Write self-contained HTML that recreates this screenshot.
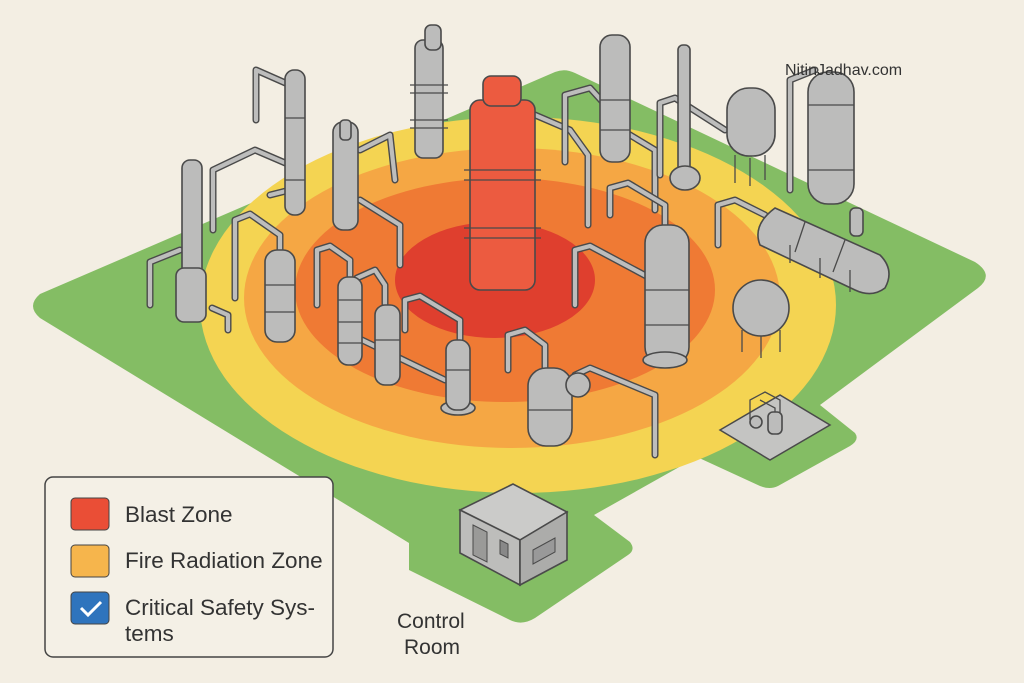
<!DOCTYPE html>
<html><head><meta charset="utf-8"><style>
html,body{margin:0;padding:0;background:#f3eee3;}
svg{display:block;font-family:"Liberation Sans",sans-serif;}
.c{fill:#bcbcbb;stroke:#4a4a4a;stroke-width:1.6}
.p{fill:none;stroke:#4a4a4a;stroke-width:7;stroke-linecap:round;stroke-linejoin:round}
.q{fill:none;stroke:#bdbdbc;stroke-width:4.2;stroke-linecap:round;stroke-linejoin:round}
.b{stroke:#4a4a4a;stroke-width:1.3;fill:none}
</style></head><body>
<svg width="1024" height="683" viewBox="0 0 1024 683">
<rect width="1024" height="683" fill="#f3eee3"/>
<!-- ground -->
<path d="M40,294 L555,72 Q565,68 575,73 L975,262 Q995,275 978,288 L820,405 L855,433 Q860,440 850,446 L778,486 Q770,490 760,486 L697,457 L594,515 L630,542 Q636,550 628,555 L535,618 Q522,626 510,620 L409,570 L409,543 L40,318 Q26,306 40,294 Z" fill="#84bd64"/>
<!-- zones -->
<ellipse cx="518" cy="305" rx="318" ry="188" fill="#f4d452"/>
<ellipse cx="512" cy="298" rx="268" ry="150" fill="#f5a744"/>
<ellipse cx="505" cy="290" rx="210" ry="112" fill="#ef7a34"/>
<ellipse cx="495" cy="280" rx="100" ry="58" fill="#df3f2e"/>
<!-- pipes back -->
<g>
<path class="p" d="M213,230 L213,170 L255,150 L290,165"/><path class="q" d="M213,230 L213,170 L255,150 L290,165"/>
<path class="p" d="M256,120 L256,70 L290,85 L290,190 L270,195"/><path class="q" d="M256,120 L256,70 L290,85 L290,190 L270,195"/>
<path class="p" d="M360,150 L390,135 L395,180"/><path class="q" d="M360,150 L390,135 L395,180"/>
<path class="p" d="M150,305 L150,262 L180,250"/><path class="q" d="M150,305 L150,262 L180,250"/>
<path class="p" d="M235,298 L235,220 L250,214 L280,235 L280,255"/><path class="q" d="M235,298 L235,220 L250,214 L280,235 L280,255"/>
<path class="p" d="M360,200 L400,225 L400,265"/><path class="q" d="M360,200 L400,225 L400,265"/>
<path class="p" d="M317,305 L317,250 L330,246 L350,260 L350,285"/><path class="q" d="M317,305 L317,250 L330,246 L350,260 L350,285"/>
<path class="p" d="M357,300 L357,278 L375,270 L385,285 L385,310"/><path class="q" d="M357,300 L357,278 L375,270 L385,285 L385,310"/>
<path class="p" d="M405,330 L405,300 L420,296 L460,320 L460,345"/><path class="q" d="M405,330 L405,300 L420,296 L460,320 L460,345"/>
<path class="p" d="M362,340 L445,380"/><path class="q" d="M362,340 L445,380"/>
<path class="p" d="M535,115 L570,130 L588,155 L588,225"/><path class="q" d="M535,115 L570,130 L588,155 L588,225"/>
<path class="p" d="M565,162 L565,95 L590,88 L610,110"/><path class="q" d="M565,162 L565,95 L590,88 L610,110"/>
<path class="p" d="M605,120 L655,150 L655,210"/><path class="q" d="M605,120 L655,150 L655,210"/>
<path class="p" d="M610,215 L610,188 L628,183 L665,205 L665,225"/><path class="q" d="M610,215 L610,188 L628,183 L665,205 L665,225"/>
<path class="p" d="M575,305 L575,250 L590,246 L650,278"/><path class="q" d="M575,305 L575,250 L590,246 L650,278"/>
<path class="p" d="M660,175 L660,103 L675,98 L725,130"/><path class="q" d="M660,175 L660,103 L675,98 L725,130"/>
<path class="p" d="M790,190 L790,80 L815,70"/><path class="q" d="M790,190 L790,80 L815,70"/>
<path class="p" d="M718,245 L718,205 L735,200 L765,215"/><path class="q" d="M718,245 L718,205 L735,200 L765,215"/>
<path class="p" d="M508,370 L508,335 L525,330 L545,345 L545,370"/><path class="q" d="M508,370 L508,335 L525,330 L545,345 L545,370"/>
<path class="p" d="M575,375 L590,368 L655,395 L655,455"/><path class="q" d="M575,375 L590,368 L655,395 L655,455"/>
<path class="p" d="M228,330 L228,315 L212,308"/><path class="q" d="M228,330 L228,315 L212,308"/>
</g>
<!-- columns -->
<g>
<rect class="c" x="182" y="160" width="20" height="160" rx="8"/>
<rect class="c" x="176" y="268" width="30" height="54" rx="8"/>
<rect class="c" x="285" y="70" width="20" height="145" rx="9"/>
<path class="b" d="M285,118h20M285,180h20"/>
<rect class="c" x="333" y="122" width="25" height="108" rx="10"/>
<rect class="c" x="340" y="120" width="11" height="20" rx="4"/>
<rect class="c" x="415" y="40" width="28" height="118" rx="8"/>
<rect class="c" x="425" y="25" width="16" height="25" rx="6"/>
<path class="b" d="M410,85 h38 M410,93 h38 M410,120 h38 M410,128 h38"/>
<rect class="c" x="265" y="250" width="30" height="92" rx="12"/>
<path class="b" d="M265,285h30M265,312h30"/>
<rect class="c" x="338" y="277" width="24" height="88" rx="10"/>
<path class="b" d="M338,300h24M338,322h24M338,343h24"/>
<rect class="c" x="375" y="305" width="25" height="80" rx="10"/>
<path class="b" d="M375,340h25"/>
<ellipse class="c" cx="458" cy="408" rx="17" ry="7"/>
<rect class="c" x="446" y="340" width="24" height="70" rx="10"/>
<path class="b" d="M446,370h24"/>
<rect class="c" x="600" y="35" width="30" height="127" rx="12"/>
<path class="b" d="M600,100h30M600,130h30"/>
<rect class="c" x="678" y="45" width="12" height="130" rx="5"/>
<ellipse class="c" cx="685" cy="178" rx="15" ry="12"/>
<rect class="c" x="727" y="88" width="48" height="68" rx="22"/>
<path class="b" d="M735,155 v28 M750,158 v28 M765,155 v25"/>
<rect class="c" x="808" y="72" width="46" height="132" rx="20"/>
<path class="b" d="M808,105h46M808,170h46"/>
<path class="c" d="M775,208 L880,255 Q895,270 885,288 Q872,298 855,290 L760,245 Q752,225 775,208 Z"/>
<path class="b" d="M805,222 l-10,30 M845,240 l-12,32 M790,245 v18 M820,258 v20 M850,270 v22"/>
<rect class="c" x="850" y="208" width="13" height="28" rx="5"/>
<rect class="c" x="645" y="225" width="44" height="140" rx="18"/>
<path class="b" d="M645,290h44M645,325h44"/>
<ellipse class="c" cx="665" cy="360" rx="22" ry="8"/>
<circle class="c" cx="761" cy="308" r="28"/>
<path class="b" d="M742,330 v22 M761,336 v22 M780,330 v22"/>
<rect class="c" x="528" y="368" width="44" height="78" rx="18"/>
<path class="b" d="M528,410h44"/>
<circle class="c" cx="578" cy="385" r="12"/>
<!-- red column -->
<rect x="470" y="100" width="65" height="190" rx="10" fill="#ec5b40" stroke="#4a4a4a" stroke-width="1.6"/>
<rect x="483" y="76" width="38" height="30" rx="8" fill="#ec5b40" stroke="#4a4a4a" stroke-width="1.6"/>
<path class="b" d="M464,170h77M464,180h77M464,228h77M464,238h77"/>
</g>
<!-- platform -->
<path d="M720,430 L780,395 L830,425 L770,460 Z" fill="#c4c4c2" stroke="#4a4a4a" stroke-width="1.5"/>
<path class="b" d="M750,420 v-20 l15,-8 l15,8 v22 M760,400 l15,8 v15"/>
<rect class="c" x="768" y="412" width="14" height="22" rx="5"/>
<circle class="c" cx="756" cy="422" r="6"/>
<!-- control room -->
<path d="M460,510 L513,484 L567,512 L520,540 Z" fill="#cbcbc9" stroke="#4a4a4a" stroke-width="1.6"/>
<path d="M460,510 L520,540 L520,585 L460,553 Z" fill="#bdbdbb" stroke="#4a4a4a" stroke-width="1.6"/>
<path d="M520,540 L567,512 L567,560 L520,585 Z" fill="#acacaa" stroke="#4a4a4a" stroke-width="1.6"/>
<path d="M473,525 L487,532 L487,562 L473,555 Z" fill="#9a9a98" stroke="#4a4a4a"/>
<path d="M500,540 L508,544 L508,558 L500,554 Z" fill="#888" stroke="#4a4a4a"/>
<path d="M533,550 L555,538 L555,552 L533,564 Z" fill="#999" stroke="#4a4a4a"/>
<text x="397" y="628" font-size="21" fill="#333">Control</text>
<text x="404" y="654" font-size="21" fill="#333">Room</text>
<text x="785" y="75" font-size="16" fill="#333">NitinJadhav.com</text>
<!-- legend -->
<rect x="45" y="477" width="288" height="180" rx="8" fill="#f4f0e6" stroke="#444" stroke-width="1.5"/>
<rect x="71" y="498" width="38" height="32" rx="4" fill="#ea4e36" stroke="#444"/>
<rect x="71" y="545" width="38" height="32" rx="4" fill="#f6b54c" stroke="#444"/>
<rect x="71" y="592" width="38" height="32" rx="4" fill="#2f74bd" stroke="#444"/>
<path d="M81,608 l7,7 l13,-13" fill="none" stroke="#fff" stroke-width="3"/>
<g font-size="22.5" fill="#333">
<text x="125" y="522">Blast Zone</text>
<text x="125" y="568">Fire Radiation Zone</text>
<text x="125" y="615">Critical Safety Sys-</text>
<text x="125" y="641">tems</text>
</g>
</svg>
</body></html>
